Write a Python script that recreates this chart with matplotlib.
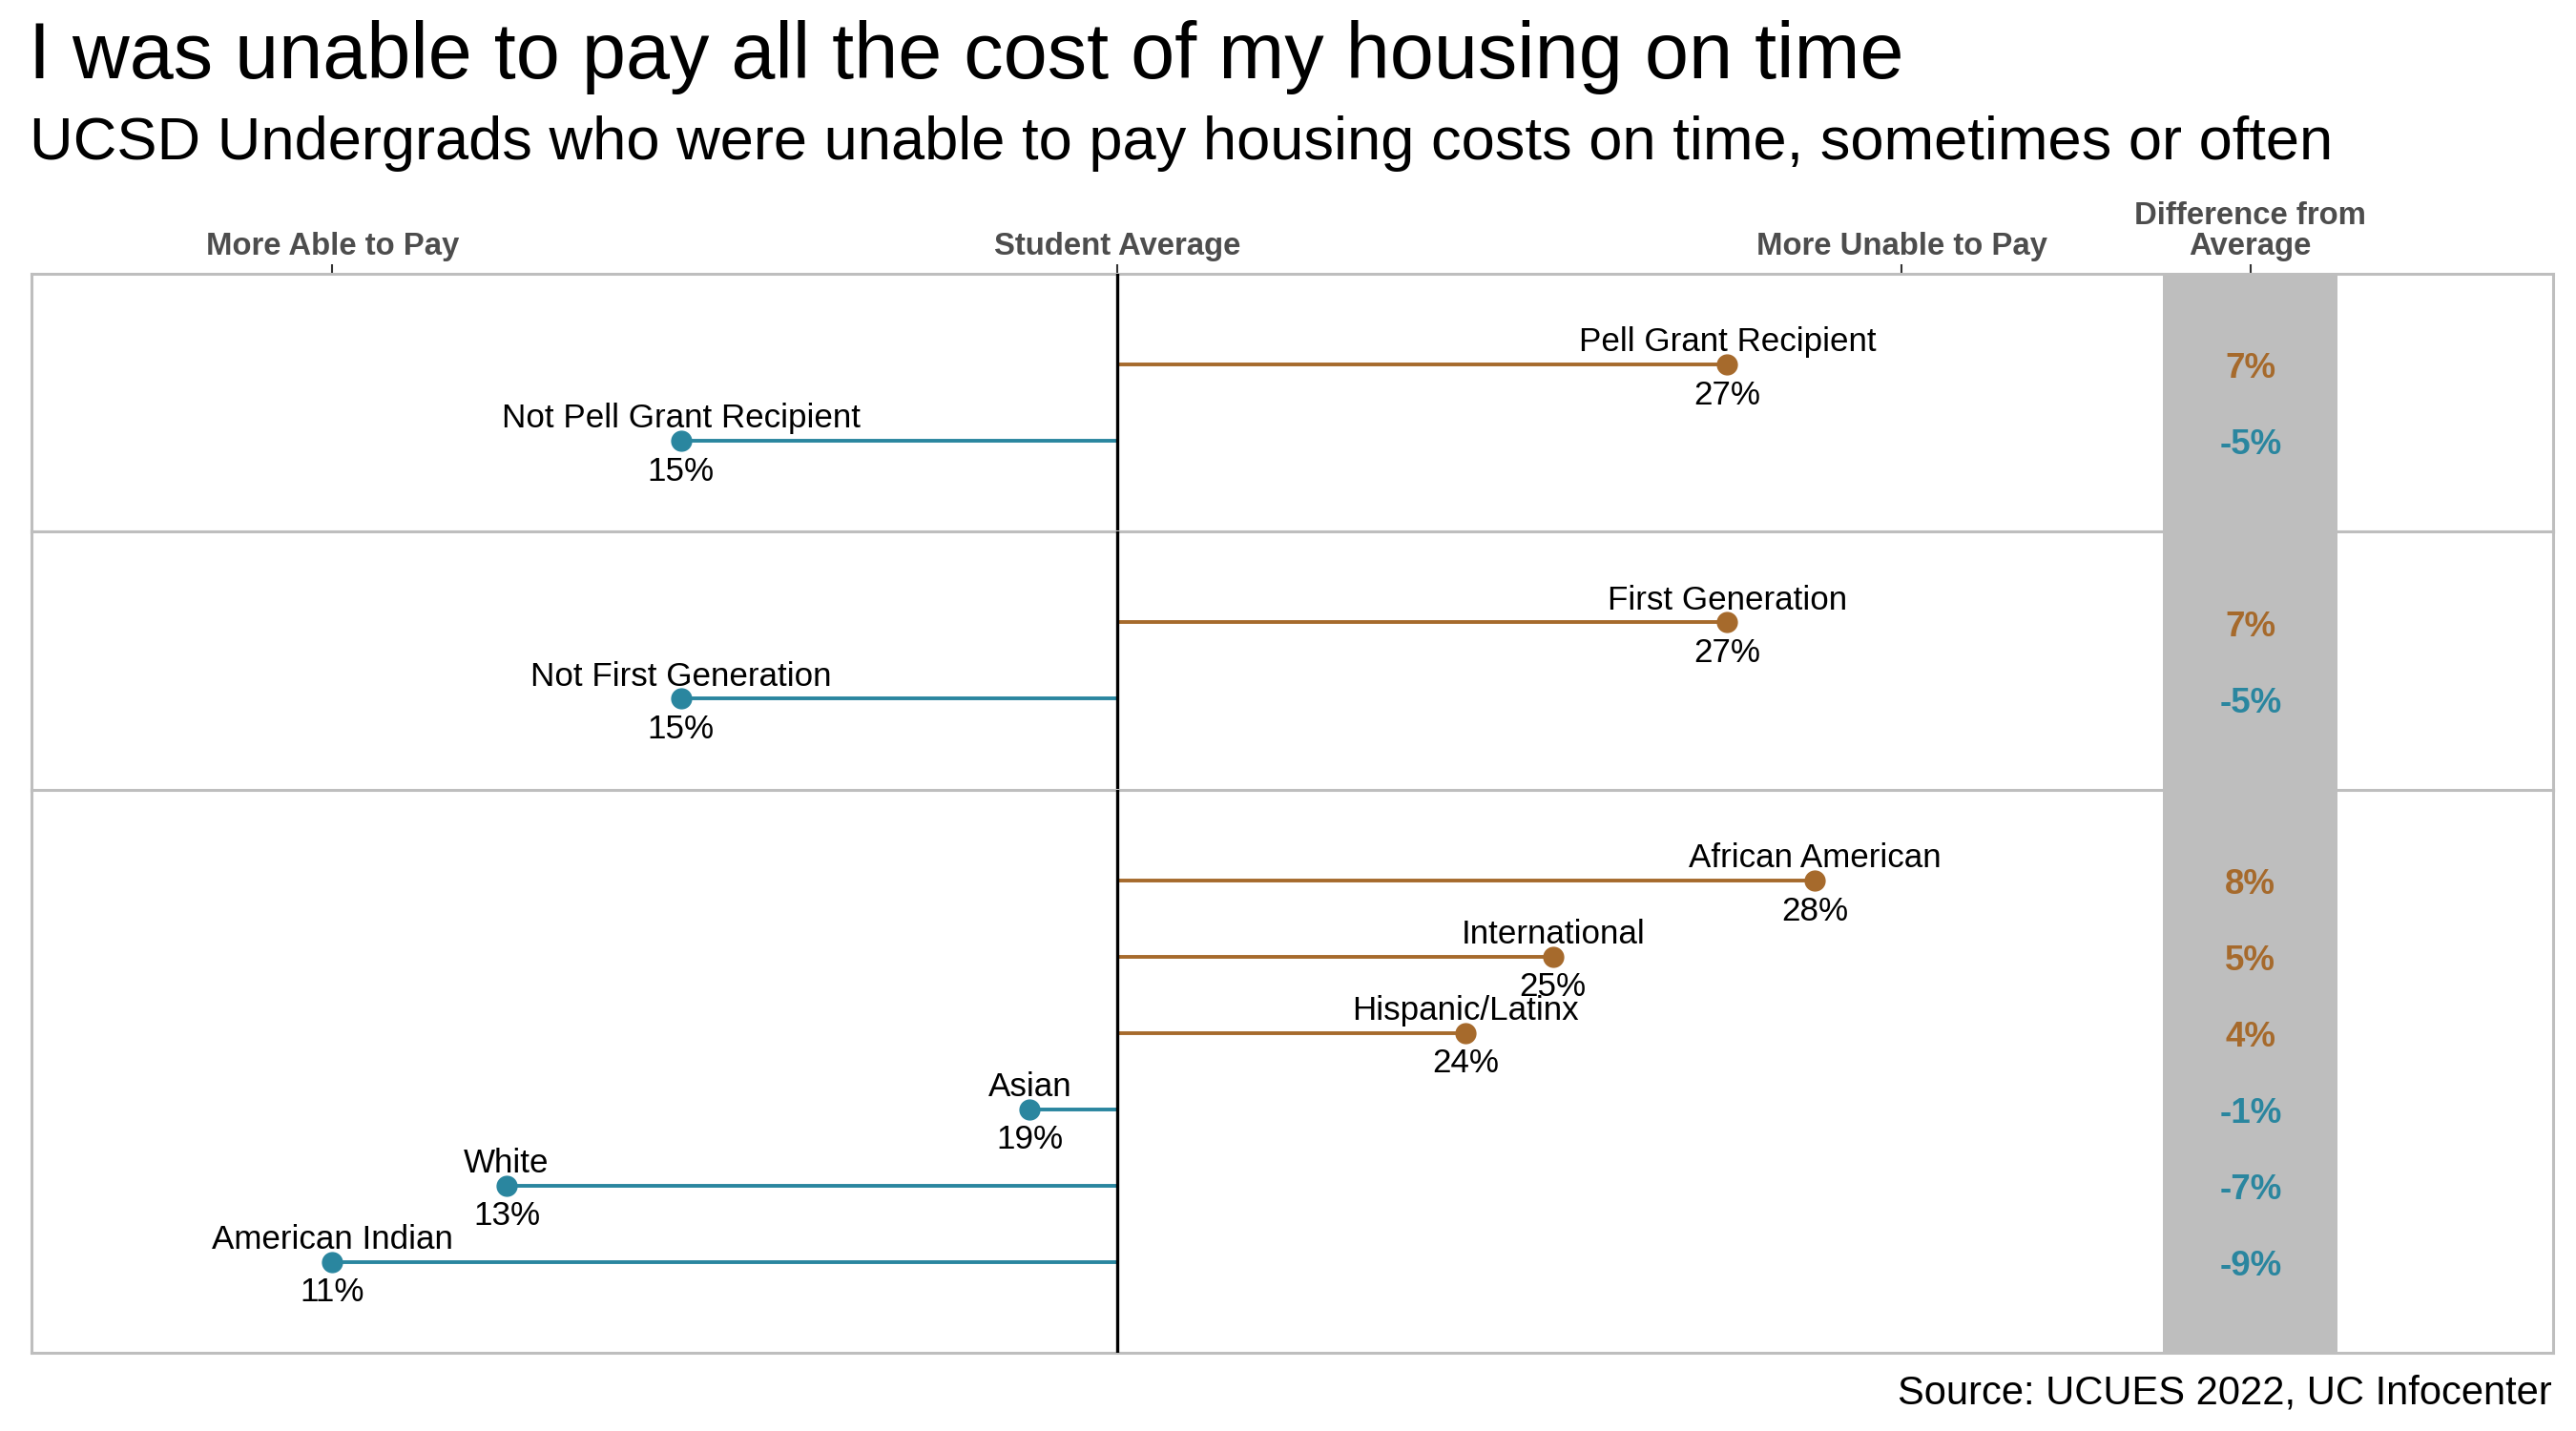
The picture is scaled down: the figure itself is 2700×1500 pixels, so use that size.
import matplotlib
matplotlib.use("Agg")
from matplotlib import pyplot as plt

plt.rcParams['font.family'] = ['Liberation Sans', 'DejaVu Sans']

average = 20

pell_labels = ["Pell Grant Recipient", "Not Pell Grant Recipient"]
pell_values = [27, 15]
pell_diffs = [7, -5]

firstgen_labels = ["First Generation", "Not First Generation"]
firstgen_values = [27, 15]
firstgen_diffs = [7, -5]

race_labels = ["African American", "International", "Hispanic/Latinx",
               "Asian", "White", "American Indian"]
race_values = [28, 25, 24, 19, 13, 11]
race_diffs = [8, 5, 4, -1, -7, -9]

tick_pos = [11, 20, 29, 33]
tick_labels = ["More Able to Pay", "Student Average", "More Unable to Pay",
               "Difference from\nAverage"]

panels = [(pell_labels, pell_values, pell_diffs),
          (firstgen_labels, firstgen_values, firstgen_diffs),
          (race_labels, race_values, race_diffs)]

above_col = "#A66A2C"
below_col = "#2A869F"
border_col = "#BEBEBE"
pad = 1.19

fig = plt.figure(figsize=(27, 15), dpi=100)
ratios = [len(p[0]) - 1 + 2 * pad for p in panels]
gs = fig.add_gridspec(3, 1, height_ratios=ratios, hspace=0,
                      left=0.0122, right=0.9911, top=0.8087, bottom=0.0547)

for i, (labels, values, diffs) in enumerate(panels):
    ax = fig.add_subplot(gs[i])
    n = len(labels)
    ax.set_xlim(7.55, 36.47)
    ax.set_ylim(n - 1 + pad, -pad)
    ax.axvspan(32, 34, color=border_col, zorder=0, lw=0)
    ax.axvline(average, color="black", lw=2.4, zorder=3)
    for j, (lab, v, d) in enumerate(zip(labels, values, diffs)):
        col = above_col if v > average else below_col
        ax.hlines(j, average, v, color=col, lw=2.8, zorder=2)
        ax.plot([v], [j], "o", color=col, ms=15, zorder=4)
        ax.annotate(lab, (v, j), xytext=(0, 10), textcoords="offset points",
                    ha="center", va="baseline", fontsize=25.2, zorder=5)
        ax.annotate(f"{v}%", (v, j), xytext=(0, -30), textcoords="offset points",
                    ha="center", va="baseline", fontsize=25.2, zorder=5)
        ax.annotate(f"{d}%", (33, j), xytext=(0, -3.5), textcoords="offset points",
                    ha="center", va="center", fontsize=26.5,
                    fontweight="bold", color=col, zorder=5)
    for sp in ax.spines.values():
        sp.set_color(border_col)
        sp.set_linewidth(2.2)
    ax.set_yticks([])
    if i == 0:
        ax.set_xticks(tick_pos)
        ax.set_xticklabels(tick_labels, fontsize=23.7, fontweight="bold", color="#4D4D4D")
        ax.tick_params(axis="x", top=True, bottom=False, labeltop=True,
                       labelbottom=False, length=7, width=1.5, color="#333333", pad=2)
        for lbl in ax.get_xticklabels():
            lbl.set_linespacing(1.05)
    else:
        ax.set_xticks([])

fig.text(0.011, 0.9453, "I was unable to pay all the cost of my housing on time",
         fontsize=59.6, ha="left", va="baseline")
fig.text(0.0115, 0.8887,
         "UCSD Undergrads who were unable to pay housing costs on time, sometimes or often",
         fontsize=45.5, ha="left", va="baseline")
fig.text(0.9907, 0.019, "Source: UCUES 2022, UC Infocenter", fontsize=30,
         ha="right", va="baseline")

fig.savefig("out.png", dpi=100)
